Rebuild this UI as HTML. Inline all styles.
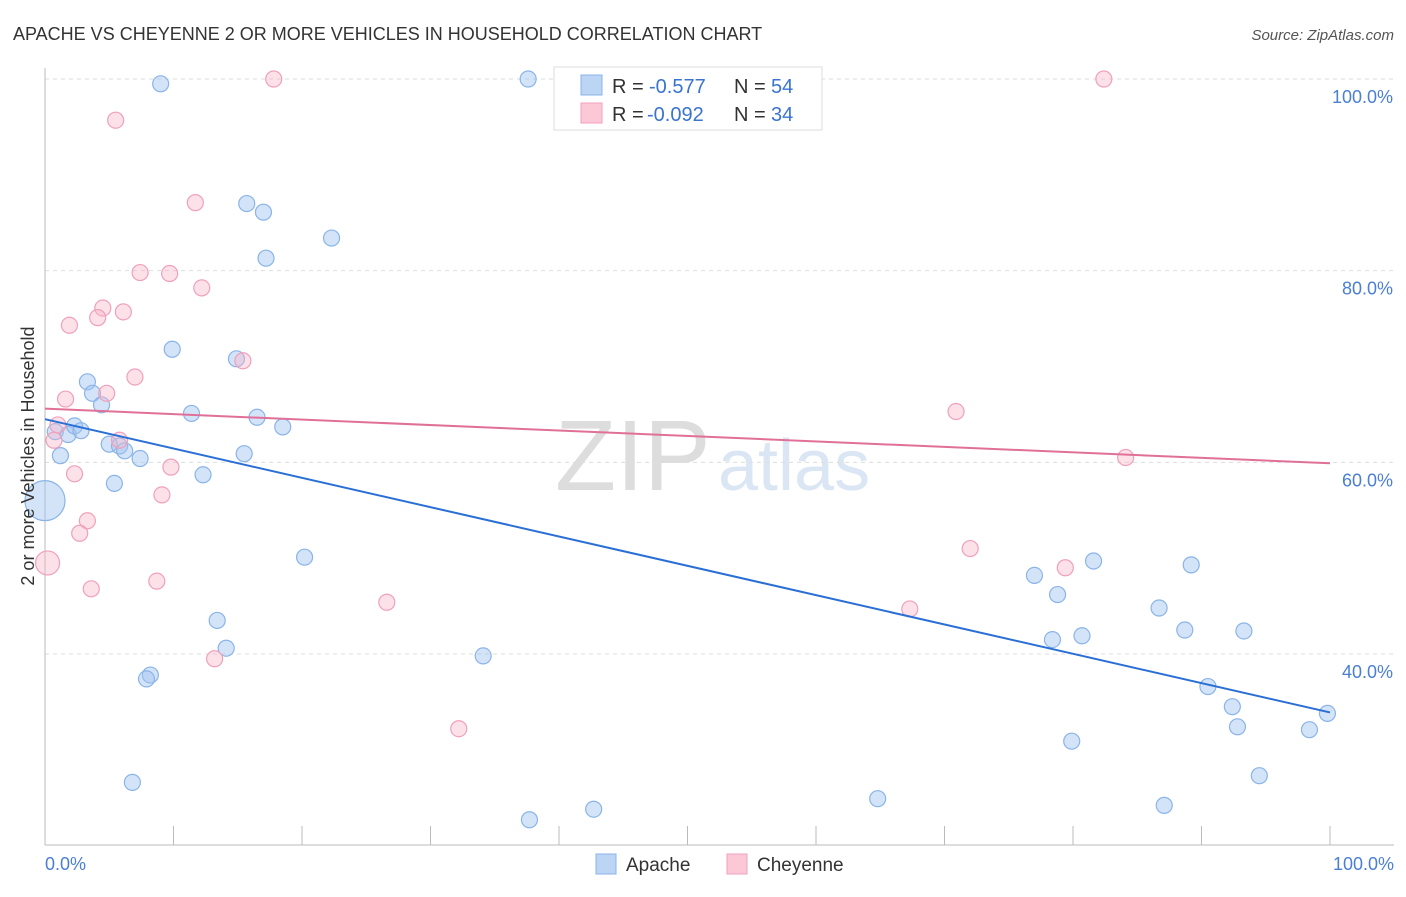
<!DOCTYPE html>
<html><head><meta charset="utf-8"><style>
body{margin:0;background:#fff;font-family:"Liberation Sans",sans-serif}
svg text{font-family:"Liberation Sans",sans-serif}
</style></head><body>
<svg id="c" width="1406" height="892">
<text x="13" y="40" font-size="18" fill="#333">APACHE VS CHEYENNE 2 OR MORE VEHICLES IN HOUSEHOLD CORRELATION CHART</text>
<text x="1394" y="40" font-size="15" fill="#555" text-anchor="end" font-style="italic">Source: ZipAtlas.com</text>
<text x="555" y="490" font-size="100" fill="#ddd" font-family="Liberation Serif">ZIP</text>
<text x="718" y="490" font-size="72" fill="#dbe6f5">atlas</text>
<g id="grid"></g><g id="pts"></g><g id="lines"></g>
<text transform="translate(34,456) rotate(-90)" font-size="18" fill="#333" text-anchor="middle">2 or more Vehicles in Household</text>
<text x="45" y="870" font-size="18" fill="#4a7fd4">0.0%</text>
<text x="1394" y="870" font-size="18" fill="#4a7fd4" text-anchor="end">100.0%</text>
<g>
<rect x="554" y="67" width="268" height="63" fill="#fff" stroke="#ddd"/>
<rect x="581" y="75" width="21" height="20" fill="#bcd5f5" stroke="#8ab4e8"/>
<rect x="581" y="103" width="21" height="20" fill="#fcc8d8" stroke="#f0a0bc"/>
<text x="612" y="93" font-size="20" fill="#333">R = </text><text x="649" y="93" font-size="20" fill="#3a74d0">-0.577</text>
<text x="734" y="93" font-size="20" fill="#333">N = </text><text x="771" y="93" font-size="20" fill="#3a74d0">54</text>
<text x="612" y="121" font-size="20" fill="#333">R = </text><text x="647" y="121" font-size="20" fill="#3a74d0">-0.092</text>
<text x="734" y="121" font-size="20" fill="#333">N = </text><text x="771" y="121" font-size="20" fill="#3a74d0">34</text>
</g>
<g>
<rect x="596" y="854" width="20" height="20" fill="#bcd5f5" stroke="#8ab4e8"/>
<text x="626" y="871" font-size="19" fill="#333">Apache</text>
<rect x="727" y="854" width="20" height="20" fill="#fcc8d8" stroke="#f0a0bc"/>
<text x="757" y="871" font-size="19" fill="#333">Cheyenne</text>
</g>
</svg>
<script>
const yTicks=[100,80,60,40];
const apacheX=[9,37.6,15.7,17,22.3,17.2,9.9,14.9,3.3,3.7,4.4,11.4,16.5,18.5,0.8,1.8,2.3,2.8,5,5.8,6.2,7.4,1.2,15.5,12.3,5.4,0,20.2,13.4,14.1,8.2,7.9,34.1,6.8,37.7,42.7,64.8,77,81.6,89.2,78.8,86.7,78.4,80.7,88.7,93.3,90.5,92.4,92.8,99.8,98.4,79.9,94.5,87.1];
const apacheY=[99.5,100,87,86.1,83.4,81.3,71.8,70.8,68.4,67.2,66,65.1,64.7,63.7,63.2,62.9,63.8,63.3,61.9,61.7,61.2,60.4,60.7,60.9,58.7,57.8,56,50.1,43.5,40.6,37.8,37.4,39.8,26.6,22.7,23.8,24.9,48.2,49.7,49.3,46.2,44.8,41.5,41.9,42.5,42.4,36.6,34.5,32.4,33.8,32.1,30.9,27.3,24.2];
const apacheR=apacheX.map((v,i)=>i===26?20:8);
const cheyX=[17.8,82.4,5.5,11.7,7.4,9.7,12.2,4.5,4.1,6.1,1.9,7,15.4,4.8,1.6,1,0.7,5.8,9.8,2.3,9.1,3.3,2.7,0.2,8.7,3.6,26.6,13.2,32.2,70.9,84.1,72,79.4,67.3];
const cheyY=[100,100,95.7,87.1,79.8,79.7,78.2,76.1,75.1,75.7,74.3,68.9,70.6,67.2,66.6,63.9,62.3,62.3,59.5,58.8,56.6,53.9,52.6,49.5,47.6,46.8,45.4,39.5,32.2,65.3,60.5,51,49,44.7];
const cheyR=cheyX.map((v,i)=>i===23?12:8);
const apacheTrend=[64.5,33.9];
const cheyTrend=[65.6,59.9];
const X0=45,X1=1330;
const sx=v=>X0+(X1-X0)*v/100;
const sy=v=>79+(100-v)*9.583;
const NS="http://www.w3.org/2000/svg";
function mk(t,a,p){const e=document.createElementNS(NS,t);for(const k in a)e.setAttribute(k,a[k]);p.appendChild(e);return e;}
const g=document.getElementById('grid');
yTicks.forEach(v=>{
 const l=mk('line',{x1:X0,x2:1394,y1:sy(v),y2:sy(v),stroke:'#ddd','stroke-dasharray':'4,4'},g);
 
 
 const t=mk('text',{x:1393,y:sy(v)+24,'font-size':18,fill:'#4a7fd4','text-anchor':'end'},g);
 t.textContent=v.toFixed(1)+'%';
 
 
});
const ax=mk('line',{x1:X0,x2:1394,y1:845,y2:845,stroke:'#bbb'},g);


const ay=mk('line',{x1:X0,x2:X0,y1:68,y2:845,stroke:'#bbb'},g);


for(let i=0;i<=10;i++){
 const tk=mk('line',{x1:sx(i*10),x2:sx(i*10),y1:826,y2:845,stroke:'#bbb'},g);
 
 
}
const p=document.getElementById('pts');
apacheX.forEach((v,i)=>{
 const c=mk('circle',{cx:sx(v),cy:sy(apacheY[i]),r:apacheR[i],fill:'rgba(160,196,240,0.45)',stroke:'#8ab4e8','stroke-width':1.2},p);
 
 
});
cheyX.forEach((v,i)=>{
 const c=mk('circle',{cx:sx(v),cy:sy(cheyY[i]),r:cheyR[i],fill:'rgba(248,180,200,0.4)',stroke:'#f0a0bc','stroke-width':1.2},p);
 
 
});
const L=document.getElementById('lines');
const a=mk('line',{x1:sx(0),x2:sx(100),y1:sy(apacheTrend[0]),y2:sy(apacheTrend[1]),stroke:'#2a6fd6','stroke-width':2},L);


const b=mk('line',{x1:sx(0),x2:sx(100),y1:sy(cheyTrend[0]),y2:sy(cheyTrend[1]),stroke:'#e07098','stroke-width':2},L);


</script>
</body></html>
